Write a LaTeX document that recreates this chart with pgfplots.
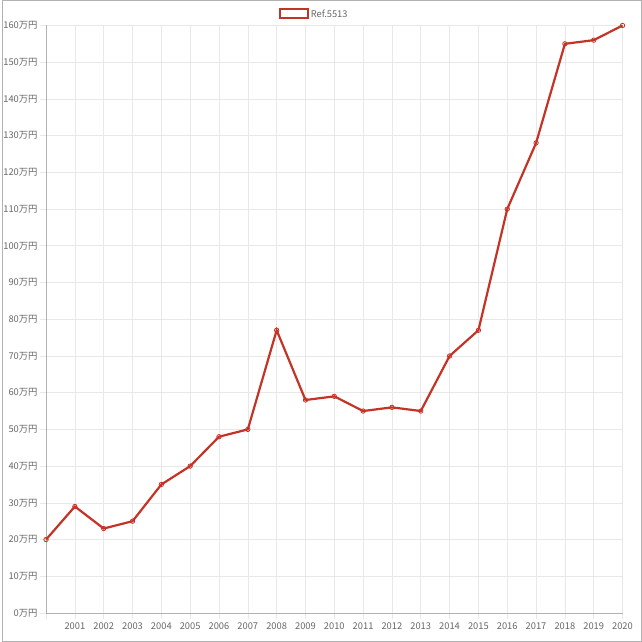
\documentclass[border=0pt]{standalone}
\usepackage{fontspec}
\setmainfont{Noto Sans CJK JP}
\usepackage{pgfplots}
\pgfplotsset{compat=1.18}
\definecolor{lineRed}{RGB}{196,52,38}
\definecolor{txt}{RGB}{102,102,102}
\definecolor{gridc}{RGB}{232,232,232}
\begin{document}
\begin{tikzpicture}
\begin{axis}[
  scale only axis, width=575pt, height=586pt,
  xmin=2000, xmax=2020, ymin=0, ymax=160,
  axis lines*=left, axis line style={draw=black!30, line width=0.8pt},
  xtick={2000,...,2020},
  xticklabels={,2001,2002,2003,2004,2005,2006,2007,2008,2009,2010,2011,2012,2013,2014,2015,2016,2017,2018,2019,2020},
  ytick={0,10,...,160},
  yticklabels={0万円,10万円,20万円,30万円,40万円,50万円,60万円,70万円,80万円,90万円,100万円,110万円,120万円,130万円,140万円,150万円,160万円},
  tick label style={font=\fontsize{9.3}{11}\selectfont, text=txt},
  yticklabel style={xshift=1pt},
  tick align=outside, major tick length=6pt, tick style={gridc, line width=0.6pt},
  grid=major, grid style={gridc, line width=0.6pt},
  legend style={at={(0.5,1)}, xshift=-20pt, yshift=20pt, anchor=north, draw=none, fill=none, font=\fontsize{9.3}{11}\selectfont, text=txt},
  legend image code/.code={\draw[lineRed, line width=1.8pt, fill=white] (0pt,-4pt) rectangle (28pt,5pt);},
  clip=false,
]
\addplot[lineRed, line width=2.2pt, mark=o, mark size=2.2pt, mark options={line width=0.8pt, fill=white}] coordinates {
(2000,20) (2001,29) (2002,23) (2003,25) (2004,35) (2005,40) (2006,48) (2007,50) (2008,77) (2009,58) (2010,59)
(2011,55) (2012,56) (2013,55) (2014,70) (2015,77) (2016,110) (2017,128) (2018,155) (2019,156) (2020,160)};
\addlegendentry{Ref.5513}
\end{axis}
\draw[black!30, line width=0.8pt] (-44pt,-28pt) rectangle (594pt,611pt);
\end{tikzpicture}
\end{document}
